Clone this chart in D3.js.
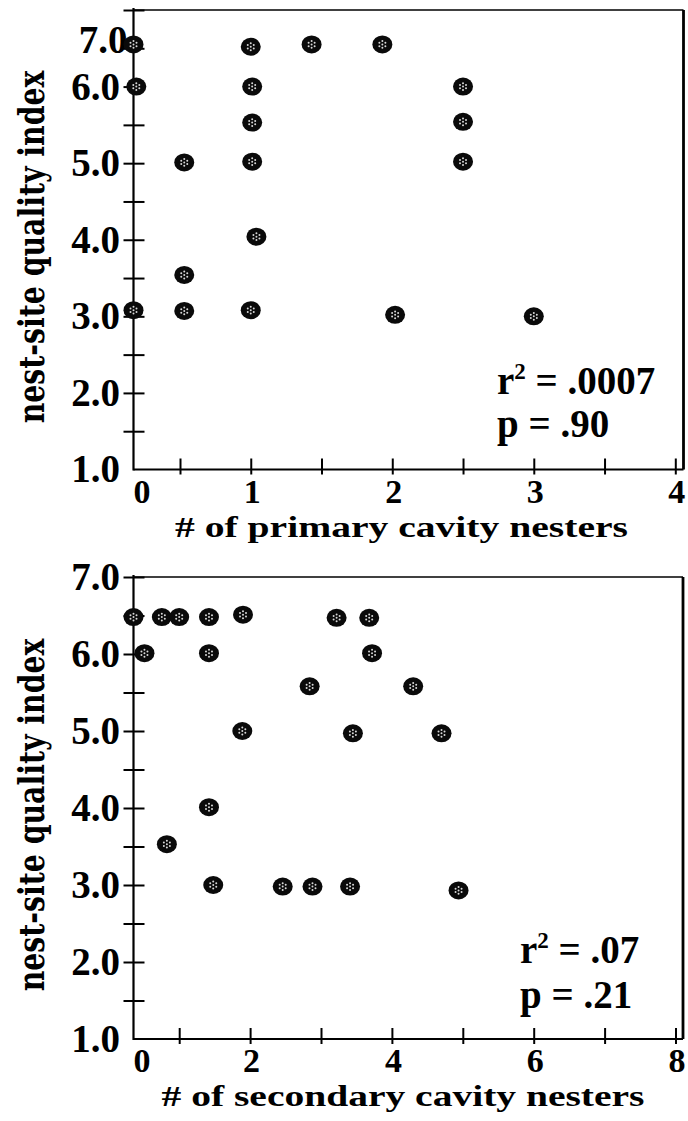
<!DOCTYPE html>
<html><head><meta charset="utf-8">
<script src="https://cdn.jsdelivr.net/npm/d3@7"></script>
<style>body{margin:0;background:#fff} svg{display:block}</style>
</head><body><svg id="c" width="688" height="1121"></svg>
<script>
// ---- data ----
const yTickValues = [1, 1.5, 2, 2.5, 3, 3.5, 4, 4.5, 5, 5.5, 6, 6.5, 7];
const yTickLabels = ["1.0", "", "2.0", "", "3.0", "", "4.0", "", "5.0", "", "6.0", "", "7.0"];
const primaryXTicks = [0, 0.5, 1, 1.5, 2, 2.5, 3, 3.5, 4];
const primaryXLabels = ["0", "", "1", "", "2", "", "3", "", "4"];
const secondaryXTicks = [0, 1, 2, 3, 4, 5, 6, 7, 8];
const secondaryXLabels = ["0", "", "2", "", "4", "", "6", "", "8"];

const primaryX = [0, 0.03, 0, 0.53, 0.53, 0.53, 1, 1.01, 1.01, 1.01, 1.04, 1, 1.43, 1.93, 2.5, 2.5, 2.5, 2.02, 3.0];
const primaryY = [6.55, 6.0, 3.08, 5.01, 3.54, 3.07, 6.52, 6.0, 5.53, 5.02, 4.04, 3.08, 6.55, 6.55, 6.0, 5.54, 5.02, 3.02, 3.0];

const secondaryX = [0, 0.62, 1.0, 1.42, 1.9, 3.22, 3.68, 0.24, 1.42, 3.72, 2.84, 4.3, 1.89, 3.45, 4.7, 1.42, 0.73, 1.48, 2.46, 2.88, 3.41, 4.94];
const secondaryY = [6.48, 6.48, 6.48, 6.48, 6.51, 6.47, 6.47, 6.01, 6.01, 6.01, 5.58, 5.58, 5.0, 4.97, 4.97, 4.01, 3.53, 3.0, 2.98, 2.98, 2.98, 2.93];

const xTitles = ["# of primary cavity nesters", "# of secondary cavity nesters"];
const yTitle = "nest-site quality index";
const statsR2 = [".0007", ".07"];
const statsP = [".90", ".21"];

// ---- layout ----
const panels = [
  { xs: primaryX, ys: primaryY, ticks: primaryXTicks, labels: primaryXLabels,
    xDomain: [0, 0.5, 4], xRange: [133.5, 180, 675.3],
    left: 133.5, right: 683.5, top: 10, bottom: 469.5,
    title: xTitles[0], titleX: 401.5, titleY: 537, titleLen: 453,
    yTitleY: 247, statX: 497, statY1: 394, statY2: 437, r2: statsR2[0], p: statsP[0] },
  { xs: secondaryX, ys: secondaryY, ticks: secondaryXTicks, labels: secondaryXLabels,
    xDomain: [0, 1, 8], xRange: [133.5, 179.2, 675.5],
    left: 133.5, right: 683, top: 577, bottom: 1039,
    title: xTitles[1], titleX: 403, titleY: 1106, titleLen: 483,
    yTitleY: 815, statX: 520, statY1: 963, statY2: 1008, r2: statsR2[1], p: statsP[1] }
];

const svg = d3.select("#c");
const serif = "'Liberation Serif', 'Times New Roman', serif";

panels.forEach((P, pi) => {
  const x = d3.scaleLinear().domain(P.xDomain).range(P.xRange);
  const y = d3.scaleLinear().domain([1, 7]).range([P.bottom, P.top]);
  const g = svg.append("g");

  // frame
  g.append("line").attr("x1", P.left).attr("x2", P.right).attr("y1", P.top).attr("y2", P.top)
    .attr("stroke", "#000").attr("stroke-width", 1.6);
  g.append("line").attr("x1", P.right).attr("x2", P.right).attr("y1", P.top).attr("y2", P.bottom)
    .attr("stroke", "#000").attr("stroke-width", 2.8);

  // y axis
  const ya = g.append("g").attr("transform", `translate(${P.left},0)`)
    .call(d3.axisLeft(y).tickValues(yTickValues).tickSize(10).tickPadding(3.5)
      .tickFormat((d, i) => yTickLabels[i]));
  ya.select(".domain").remove();
  ya.selectAll(".tick line").attr("x1", 11).attr("stroke", "#000").attr("stroke-width", 2)
    .filter(d => d === 1).remove();
  ya.selectAll(".tick text").attr("font-family", serif).attr("font-weight", "bold")
    .attr("font-size", 39).attr("fill", "#000")
    .each(function (d) {
      if (pi === 0 && d === 7) d3.select(this).attr("x", -6).attr("y", 30);
    });

  // x axis
  const xa = g.append("g").attr("transform", `translate(0,${P.bottom})`)
    .call(d3.axisBottom(x).tickValues(P.ticks).tickSize(5).tickPadding(4)
      .tickFormat((d, i) => P.labels[i]));
  xa.select(".domain").remove();
  xa.selectAll(".tick line").attr("y1", -11).attr("stroke", "#000").attr("stroke-width", 2)
    .filter(d => d === 0).remove();
  xa.selectAll(".tick text").attr("font-family", serif).attr("font-weight", "bold")
    .attr("font-size", 34).attr("fill", "#000")
    .attr("x", d => d === 0 ? 8 : 1);

  // axis lines
  g.append("line").attr("x1", P.left).attr("x2", P.left).attr("y1", P.top - 2).attr("y2", P.bottom + 1)
    .attr("stroke", "#000").attr("stroke-width", 2.2);
  g.append("line").attr("x1", P.left).attr("x2", P.right).attr("y1", P.bottom).attr("y2", P.bottom)
    .attr("stroke", "#000").attr("stroke-width", 2.2);

  // points
  const pts = P.xs.map((v, i) => ({ x: v, y: P.ys[i] }));
  const dotOffsets = [[0, 0], [0, -3.4], [3.0, -1.7], [3.0, 1.7], [0, 3.4], [-3.0, 1.7], [-3.0, -1.7]];
  const mk = g.append("g").selectAll("g").data(pts).join("g")
    .attr("transform", d => `translate(${x(d.x)},${y(d.y)})`);
  mk.append("ellipse").attr("rx", 10).attr("ry", 9).attr("fill", "#0a0a0a");
  dotOffsets.forEach(o => {
    mk.append("circle").attr("cx", o[0]).attr("cy", o[1]).attr("r", 1.0).attr("fill", "#d8d8d8");
  });

  // stats
  const t1 = g.append("text").attr("x", P.statX).attr("y", P.statY1)
    .attr("font-family", serif).attr("font-weight", "bold").attr("font-size", 39).attr("fill", "#000");
  t1.append("tspan").text("r");
  t1.append("tspan").attr("font-size", 23).attr("dy", -15).text("2");
  t1.append("tspan").attr("dy", 15).text(" = " + P.r2);
  g.append("text").attr("x", P.statX).attr("y", P.statY2)
    .attr("font-family", serif).attr("font-weight", "bold").attr("font-size", 39).attr("fill", "#000")
    .text("p = " + P.p);

  // x title
  g.append("text").attr("x", P.titleX).attr("y", P.titleY).attr("text-anchor", "middle")
    .attr("font-family", serif).attr("font-weight", "bold").attr("font-size", 30).attr("fill", "#000")
    .attr("textLength", P.titleLen).attr("lengthAdjust", "spacingAndGlyphs")
    .text(P.title);

  // y title (compressed along its reading direction with a scale transform)
  const yt = g.append("text")
    .attr("text-anchor", "middle")
    .attr("font-family", "'DejaVu Serif', serif").attr("font-weight", "bold").attr("font-size", 36)
    .attr("fill", "#000")
    .text(yTitle);
  const natural = yt.node().getComputedTextLength() || 353;
  yt.attr("transform", `translate(44,${P.yTitleY}) rotate(-90) scale(${353 / natural},1)`);
});
</script>
</body></html>
